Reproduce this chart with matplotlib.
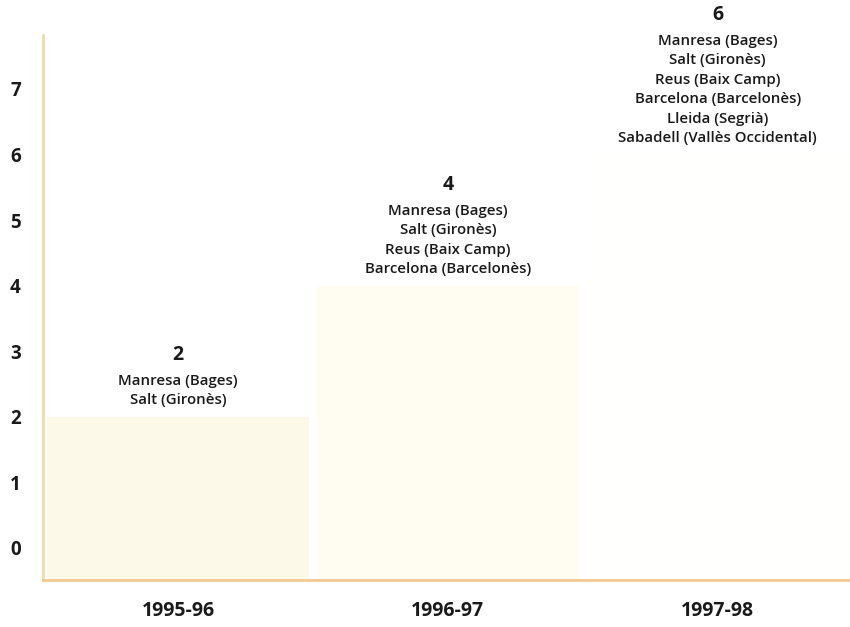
import matplotlib.pyplot as plt

plt.rcParams['font.family'] = ['Open Sans', 'DejaVu Sans']

seasons = ["1995-96", "1996-97", "1997-98"]
counts = [2, 4, 6]
towns = [
    ["Manresa (Bages)", "Salt (Gironès)"],
    ["Manresa (Bages)", "Salt (Gironès)", "Reus (Baix Camp)",
     "Barcelona (Barcelonès)"],
    ["Manresa (Bages)", "Salt (Gironès)", "Reus (Baix Camp)",
     "Barcelona (Barcelonès)", "Lleida (Segrià)",
     "Sabadell (Vallès Occidental)"],
]
yticks = [0, 1, 2, 3, 4, 5, 6, 7]

bar_colors = ["#fdf9e8", "#fffcf1", "#fffffe"]
y0 = -0.49

fig = plt.figure(figsize=(8.5, 6.27), dpi=100)
ax = fig.add_axes([0.0506, 0.075, 0.9494, 0.869])

x = range(len(seasons))
ax.bar(x, [c - y0 for c in counts], bottom=y0, width=0.97,
       color=bar_colors, edgecolor="none", zorder=1)

ax.set_xlim(-0.5, 2.49)
ax.set_ylim(y0, 7.82)

step = 14.0  # points between town lines
for i, (c, names) in enumerate(zip(counts, towns)):
    base = c + 0.25
    n = len(names)
    for k, name in enumerate(names):
        ax.annotate(name, xy=(i, base), xytext=(0, (n - 1 - k) * step),
                    textcoords="offset points", ha="center", va="center",
                    fontsize=10.8, fontweight="semibold", color="#1a1a1a",
                    annotation_clip=False)
    ax.annotate(str(c), xy=(i, base), xytext=(0, (n - 1) * step + 18.5),
                textcoords="offset points", ha="center", va="center",
                fontsize=14, fontweight="bold", color="#1a1a1a",
                annotation_clip=False)

ax.set_xticks(list(x))
ax.set_xticklabels(seasons, fontsize=14, fontweight="bold", color="#1a1a1a")
ax.set_yticks(yticks)
ax.set_yticklabels([str(t) for t in yticks], fontsize=13.5,
                   fontweight="bold", color="#1a1a1a")
ax.tick_params(axis="both", length=0)
ax.tick_params(axis="x", pad=15)
ax.tick_params(axis="y", pad=16)

for s in ["top", "right"]:
    ax.spines[s].set_visible(False)
ax.spines["left"].set_color("#f2dba6")
ax.spines["left"].set_linewidth(2)
ax.spines["bottom"].set_color("#f5c892")
ax.spines["bottom"].set_linewidth(2)

fig.savefig("out.png", dpi=100)
